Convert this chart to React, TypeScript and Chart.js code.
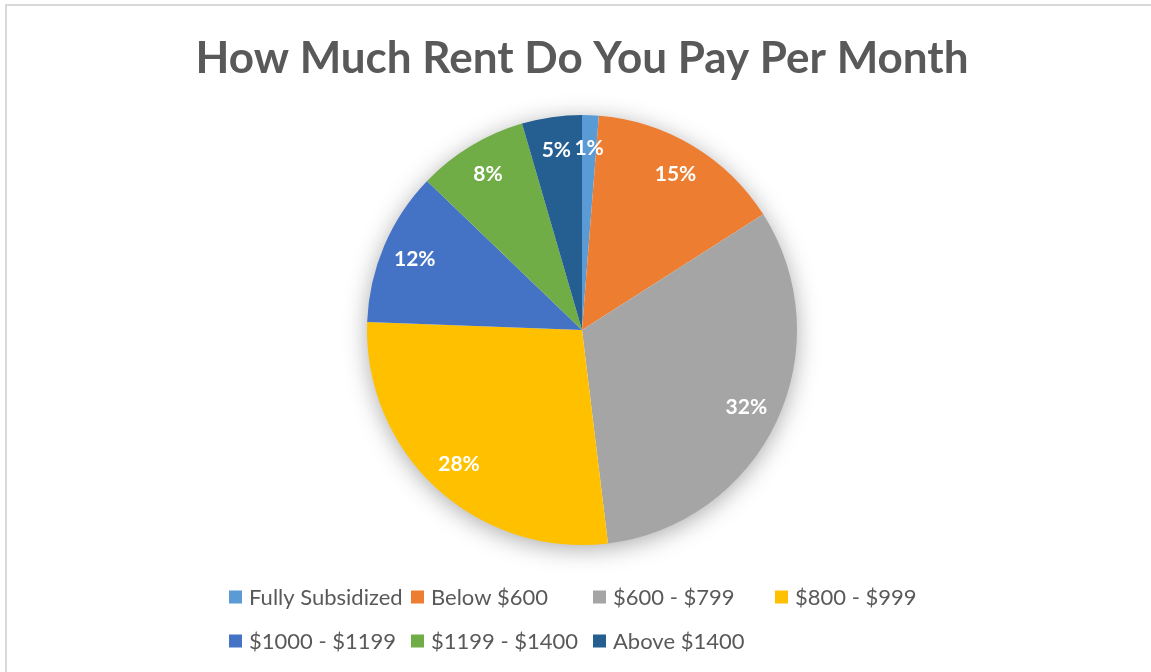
import React, { useEffect, useRef } from "react";
import { Chart, registerables } from "chart.js";
Chart.register(...registerables);

const categories = [
  "Fully Subsidized",
  "Below $600",
  "$600 - $799",
  "$800 - $999",
  "$1000 - $1199",
  "$1199 - $1400",
  "Above $1400",
];
const shares = [1.25, 14.7, 32.1, 27.5, 11.6, 8.3, 4.5];
const colors = ["#5B9BD5", "#ED7D31", "#A5A5A5", "#FFC000", "#4472C4", "#70AD47", "#255E91"];
const titleText = "How Much Rent Do You Pay Per Month";

const FONT = "Lato, 'Open Sans', 'DejaVu Sans', sans-serif";

const shadowPlugin = {
  id: "pieShadow",
  beforeDatasetsDraw(chart: any) {
    const arc = chart.getDatasetMeta(0).data[0];
    if (!arc) return;
    const { x, y, outerRadius } = arc.getProps(["x", "y", "outerRadius"], true);
    const ctx = chart.ctx;
    ctx.save();
    ctx.shadowColor = "rgba(0,0,0,0.35)";
    ctx.shadowBlur = 24;
    ctx.shadowOffsetY = 4;
    ctx.beginPath();
    ctx.arc(x, y, outerRadius - 1, 0, Math.PI * 2);
    ctx.fillStyle = "#ffffff";
    ctx.fill();
    ctx.restore();
  },
};

const labelPlugin = {
  id: "pctLabels",
  afterDatasetsDraw(chart: any) {
    const ctx = chart.ctx;
    const data: number[] = chart.data.datasets[0].data;
    const total = data.reduce((a, b) => a + b, 0);
    ctx.save();
    ctx.font = `bold 21px ${FONT}`;
    ctx.fillStyle = "#ffffff";
    ctx.textAlign = "center";
    ctx.textBaseline = "middle";
    chart.getDatasetMeta(0).data.forEach((arc: any, i: number) => {
      const p = arc.getProps(["x", "y", "startAngle", "endAngle", "outerRadius"], true);
      const mid = (p.startAngle + p.endAngle) / 2;
      const r = p.outerRadius * 0.845;
      const tx = p.x + Math.cos(mid) * r;
      const ty = p.y + Math.sin(mid) * r;
      ctx.fillText(`${Math.round((data[i] / total) * 100)}%`, tx, ty);
    });
    ctx.restore();
  },
};

const legendPlugin = {
  id: "gridLegend",
  afterDraw(chart: any) {
    const ctx = chart.ctx;
    ctx.save();
    ctx.font = `22px ${FONT}`;
    ctx.textAlign = "left";
    ctx.textBaseline = "middle";
    categories.forEach((label, i) => {
      const row = Math.floor(i / 4);
      const col = i % 4;
      const x = 229 + col * 182;
      const y = 597 + row * 44;
      ctx.fillStyle = colors[i];
      ctx.fillRect(x, y - 6.5, 13, 13);
      ctx.fillStyle = "#595959";
      ctx.fillText(label, x + 20, y + 1);
    });
    ctx.restore();
  },
};

export default function App() {
  const ref = useRef<HTMLCanvasElement | null>(null);
  useEffect(() => {
    document.body.style.margin = "0";
    const chart = new Chart(ref.current as HTMLCanvasElement, {
      type: "pie",
      data: {
        labels: categories,
        datasets: [
          {
            data: shares,
            backgroundColor: colors,
            borderWidth: 0,
          },
        ],
      },
      options: {
        animation: false,
        responsive: false,
        layout: { padding: { top: 0, left: 13, right: 0, bottom: 127 } },
        plugins: {
          legend: { display: false },
          tooltip: { enabled: false },
          title: {
            display: true,
            text: titleText,
            color: "#595959",
            font: { family: FONT, size: 44, weight: "bold" },
            padding: { top: 32.6, bottom: 29.6 },
          },
        },
      },
      plugins: [shadowPlugin, labelPlugin, legendPlugin],
    });
    return () => chart.destroy();
  }, []);
  return (
    <div style={{ position: "relative", width: 1151, height: 672, background: "#fff" }}>
      <canvas ref={ref} width={1151} height={672} />
      <div
        style={{
          position: "absolute",
          left: 5,
          top: 4,
          right: 0,
          bottom: 0,
          borderTop: "2px solid #d9d9d9",
          borderLeft: "2px solid #d9d9d9",
          pointerEvents: "none",
        }}
      />
    </div>
  );
}
